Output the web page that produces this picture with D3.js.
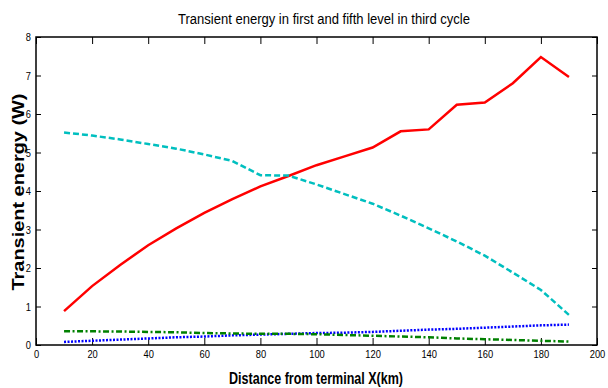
<!DOCTYPE html>
<html>
<head>
<meta charset="utf-8">
<script src="https://cdn.jsdelivr.net/npm/d3@7"></script>
<style>
  html, body { margin: 0; padding: 0; background: #fff; }
  svg { display: block; font-family: "Liberation Sans", Arial, sans-serif; }
</style>
</head>
<body>
<svg id="chart" width="608" height="388"></svg>
<script>
// Distance from terminal X (km)
const distance = [10, 20, 30, 40, 50, 60, 70, 80, 90, 100, 110, 120, 130, 140, 150, 160, 170, 180, 190];

// Transient energy (W) per series
const seriesRed   = [0.88, 1.53, 2.08, 2.59, 3.03, 3.43, 3.79, 4.12, 4.39, 4.67, 4.90, 5.13, 5.55, 5.60, 6.24, 6.30, 6.80, 7.48, 6.96];
const seriesCyan  = [5.52, 5.44, 5.34, 5.22, 5.10, 4.95, 4.78, 4.41, 4.40, 4.17, 3.92, 3.67, 3.36, 3.03, 2.69, 2.32, 1.88, 1.43, 0.78];
const seriesBlue  = [0.08, 0.11, 0.14, 0.17, 0.20, 0.22, 0.25, 0.27, 0.29, 0.31, 0.32, 0.34, 0.37, 0.40, 0.42, 0.45, 0.48, 0.51, 0.53];
const seriesGreen = [0.36, 0.355, 0.35, 0.34, 0.33, 0.31, 0.30, 0.29, 0.29, 0.28, 0.26, 0.24, 0.22, 0.20, 0.17, 0.15, 0.13, 0.11, 0.09];

const xTicks = [0, 20, 40, 60, 80, 100, 120, 140, 160, 180, 200];
const yTicks = [0, 1, 2, 3, 4, 5, 6, 7, 8];

const titleText = "Transient energy in first and fifth level in third cycle";
const xLabelText = "Distance from terminal X(km)";
const yLabelText = "Transient energy (W)";

const svg = d3.select("#chart");
const plot = { left: 36, right: 597, top: 37, bottom: 345 };

const x = d3.scaleLinear().domain([0, 200]).range([plot.left, plot.right]);
const y = d3.scaleLinear().domain([0, 8]).range([plot.bottom, plot.top]);

// Axes with inward ticks on all four sides
const axisFont = g => g.selectAll("text")
  .attr("font-family", "'Liberation Sans', Arial, sans-serif")
  .attr("font-size", 11)
  .attr("fill", "#000");

const xb = svg.append("g").attr("transform", `translate(0,${plot.bottom})`)
  .call(d3.axisBottom(x).tickValues(xTicks).tickSizeInner(-7).tickSizeOuter(0).tickPadding(5));
xb.call(axisFont);
xb.selectAll("text").each(function () {
  d3.select(this).attr("textLength", this.textContent.length * 5.2).attr("lengthAdjust", "spacingAndGlyphs");
});

svg.append("g").attr("transform", `translate(0,${plot.top})`)
  .call(d3.axisTop(x).tickValues(xTicks).tickSizeInner(-7).tickSizeOuter(0).tickFormat(""));

const yl = svg.append("g").attr("transform", `translate(${plot.left},0)`)
  .call(d3.axisLeft(y).tickValues(yTicks).tickSizeInner(-5).tickSizeOuter(0).tickPadding(5));
yl.call(axisFont);
yl.selectAll("text").attr("textLength", 5.2).attr("lengthAdjust", "spacingAndGlyphs");

svg.append("g").attr("transform", `translate(${plot.right},0)`)
  .call(d3.axisRight(y).tickValues(yTicks).tickSizeInner(-5).tickSizeOuter(0).tickFormat(""));

svg.selectAll(".domain").remove();
svg.selectAll(".tick line").attr("stroke", "#000").attr("stroke-width", 1);

// Frame
svg.append("rect")
  .attr("x", plot.left).attr("y", plot.top)
  .attr("width", plot.right - plot.left).attr("height", plot.bottom - plot.top)
  .attr("fill", "none").attr("stroke", "#000").attr("stroke-width", 1.5);

// Series lines
const series = [
  { values: seriesRed,   color: "#ff0000", dash: null },
  { values: seriesCyan,  color: "#00bfbf", dash: "6,3" },
  { values: seriesBlue,  color: "#0000ff", dash: "2,1.5" },
  { values: seriesGreen, color: "#008000", dash: "6,2.5,2,2.5" }
];

const line = d3.line().x((d, i) => x(distance[i])).y(d => y(d));

svg.append("g").selectAll("path")
  .data(series)
  .join("path")
  .attr("d", s => line(s.values))
  .attr("fill", "none")
  .attr("stroke", s => s.color)
  .attr("stroke-width", 2.5)
  .attr("stroke-dasharray", s => s.dash);

// Title and axis labels
svg.append("text")
  .attr("x", 324).attr("y", 24)
  .attr("text-anchor", "middle")
  .attr("font-size", 14)
  .attr("textLength", 292).attr("lengthAdjust", "spacingAndGlyphs")
  .text(titleText);

svg.append("text")
  .attr("x", 316).attr("y", 384)
  .attr("text-anchor", "middle")
  .attr("font-size", 16).attr("font-weight", "bold")
  .attr("textLength", 174).attr("lengthAdjust", "spacingAndGlyphs")
  .text(xLabelText);

svg.append("text")
  .attr("transform", "translate(24,192) rotate(-90)")
  .attr("text-anchor", "middle")
  .attr("font-size", 16).attr("font-weight", "bold")
  .attr("textLength", 197).attr("lengthAdjust", "spacingAndGlyphs")
  .text(yLabelText);
</script>
</body>
</html>
